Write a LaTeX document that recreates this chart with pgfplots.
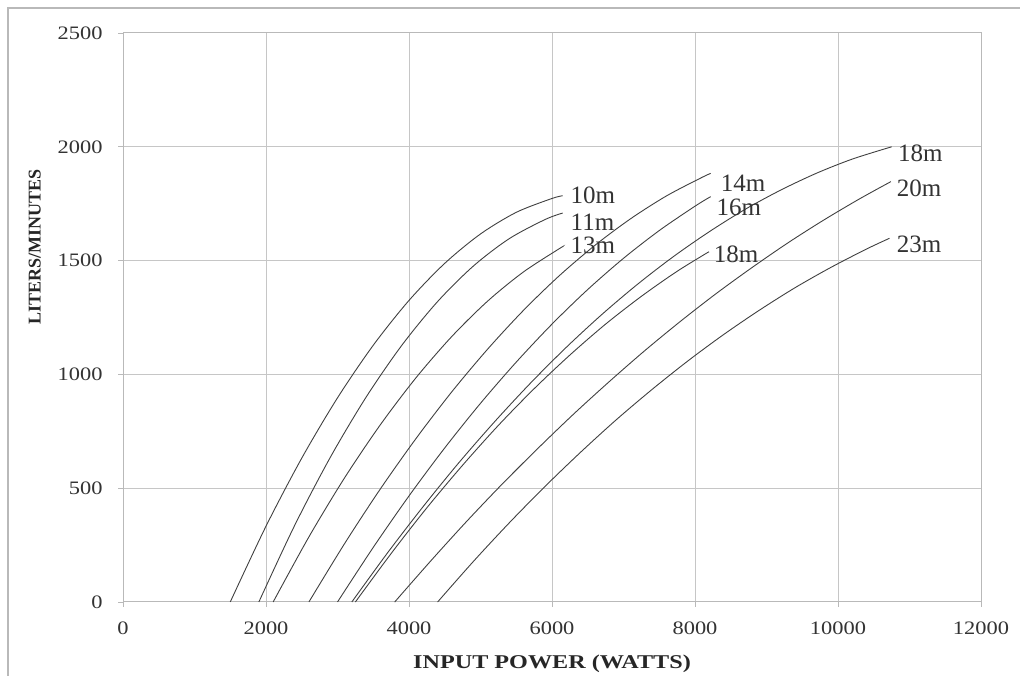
\documentclass[border=0pt]{standalone}
\usepackage{pgfplots}
\pgfplotsset{compat=1.18}
\usepackage{fontspec}
\setmainfont{Liberation Serif}
\newfontfamily\widefont[FakeStretch=1.18]{Liberation Serif}
\newfontfamily\xlabfont[FakeStretch=1.24]{Liberation Serif}
\tikzset{curve/.style={smooth, color=black!75, line width=0.9pt, mark=none}}
\begin{document}
\begin{tikzpicture}
\useasboundingbox (0pt,0pt) rectangle (1020pt,676pt);
\draw[gray!55, line width=1.5pt] (8pt,0pt) -- (8pt,668pt) -- (1020pt,668pt);
\begin{axis}[
  at={(123pt,74pt)}, anchor=south west,
  scale only axis, width=858pt, height=569pt,
  xmin=0, xmax=12000, ymin=0, ymax=2500,
  xtick={0,2000,...,12000}, ytick={0,500,...,2500},
  xtick pos=bottom, ytick pos=left,
  grid=major, major grid style={gray!45, line width=1pt},
  axis line style={gray!55, line width=1pt},
  tick style={gray!55, line width=0.8pt},
  tick align=outside, major tick length=5pt,
  scaled x ticks=false, scaled y ticks=false,
  /pgf/number format/assume math mode=true,
  /pgf/number format/1000 sep={},
  tick label style={font=\widefont\fontsize{19}{21}\selectfont, text=black!80},
  x tick label style={yshift=-11pt},
  y tick label style={xshift=-12pt},
  xlabel={INPUT POWER (WATTS)},
  xlabel style={at={(axis description cs:0.5,-0.109)}, anchor=center, font=\xlabfont\bfseries\fontsize{19.5}{21}\selectfont, text=black!85},
  ylabel={LITERS/MINUTES},
  ylabel style={at={(axis description cs:-0.1027,0.624)}, anchor=center, font=\bfseries\fontsize{18}{20}\selectfont, text=black!85},
  clip=false,
]
% 10m
\addplot[curve] coordinates {(1500,0) (2000,333) (2500,632) (3000,897) (3500,1128) (4000,1325) (4500,1488) (5000,1617) (5500,1712) (6000,1773) (6150,1785)};
% 11m
\addplot[curve] coordinates {(1900,0) (2400,336) (2900,636) (3400,900) (3900,1128) (4400,1320) (4900,1476) (5400,1596) (5900,1680) (6150,1709)};
% 13m
\addplot[curve] coordinates {(2100,0) (2600,286) (3100,546) (3600,779) (4100,986) (4600,1167) (5100,1322) (5600,1450) (6100,1552) (6150,1561)};
% 14m
\addplot[curve] coordinates {(2600,0) (3100,257) (3600,497) (4100,719) (4600,924) (5100,1111) (5600,1281) (6100,1433) (6600,1567) (7100,1684) (7600,1784) (8100,1866) (8219,1883)};
% 16m
\addplot[curve] coordinates {(3000,0) (3500,240) (4000,466) (4500,677) (5000,873) (5500,1054) (6000,1221) (6500,1373) (7000,1510) (7500,1632) (8000,1739) (8219,1781)};
% 18m (upper)
\addplot[curve] coordinates {(3200,0) (3700,216) (4200,420) (4700,613) (5200,793) (5700,962) (6200,1119) (6700,1264) (7200,1397) (7700,1518) (8200,1627) (8700,1725) (9200,1810) (9700,1884) (10200,1946) (10750,2000)};
% 18m (lower)
\addplot[curve] coordinates {(3250,0) (3750,213) (4250,414) (4750,601) (5250,776) (5750,937) (6250,1085) (6750,1221) (7250,1343) (7750,1453) (8196,1539)};
% 20m
\addplot[curve] coordinates {(3800,0) (4300,179) (4800,352) (5300,517) (5800,674) (6300,825) (6800,968) (7300,1105) (7800,1234) (8300,1356) (8800,1470) (9300,1578) (9800,1678) (10300,1771) (10740,1847)};
% 23m
\addplot[curve] coordinates {(4400,0) (4900,178) (5400,347) (5900,507) (6400,658) (6900,801) (7400,934) (7900,1059) (8400,1175) (8900,1282) (9400,1381) (9900,1470) (10400,1551) (10720,1598)};
\begin{scope}[every node/.style={anchor=west, font=\fontsize{25}{27}\selectfont, text=black!80, inner sep=0pt}]
\node at (axis cs:6259,1788) {10m};
\node at (axis cs:6259,1670) {11m};
\node at (axis cs:6259,1568) {13m};
\node at (axis cs:8359,1841) {14m};
\node at (axis cs:8300,1735) {16m};
\node at (axis cs:8260,1529) {18m};
\node at (axis cs:10837,1973) {18m};
\node at (axis cs:10820,1819) {20m};
\node at (axis cs:10820,1573) {23m};
\end{scope}
\end{axis}
\end{tikzpicture}
\end{document}
